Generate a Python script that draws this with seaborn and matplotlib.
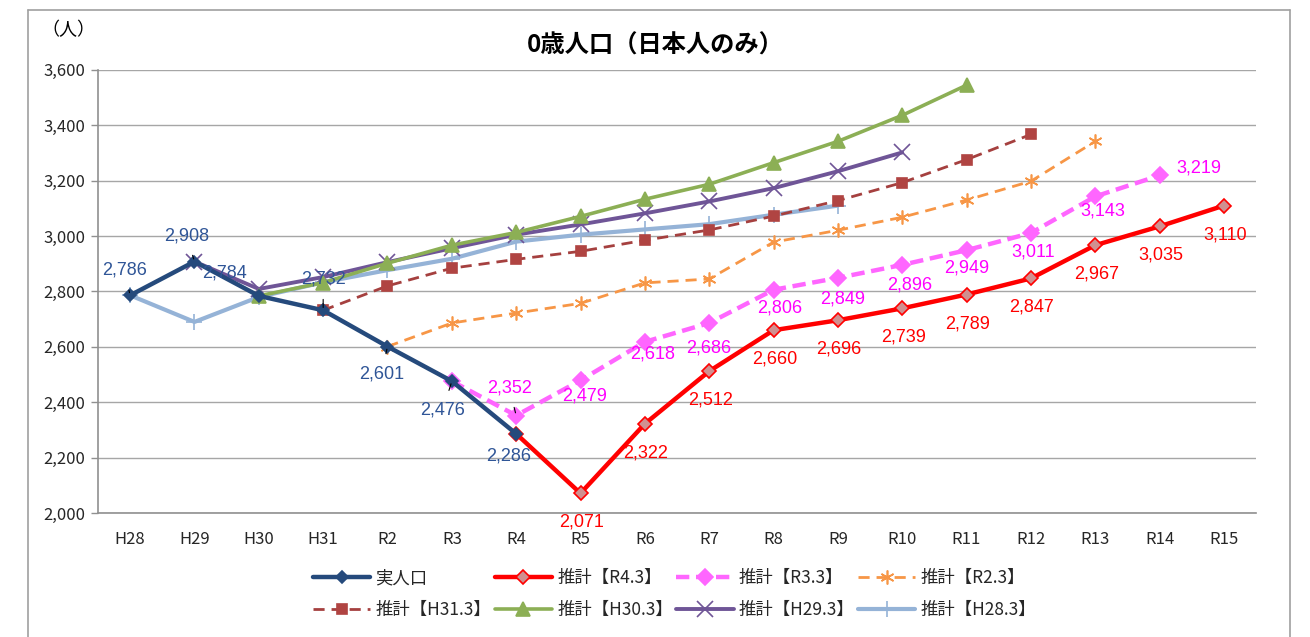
import numpy as np
import pandas as pd
import seaborn as sns
import matplotlib.pyplot as plt
from matplotlib.lines import Line2D

# categories (fiscal years)
years = ['H28', 'H29', 'H30', 'H31', 'R2', 'R3', 'R4', 'R5', 'R6',
         'R7', 'R8', 'R9', 'R10', 'R11', 'R12', 'R13', 'R14', 'R15']

# each series: first year index + values
actual_start = 0
actual = [2786, 2908, 2784, 2732, 2601, 2476, 2286]
r43_start = 6
r43 = [2286, 2071, 2322, 2512, 2660, 2696, 2739, 2789, 2847, 2967, 3035, 3110]
r33_start = 5
r33 = [2476, 2352, 2479, 2618, 2686, 2806, 2849, 2896, 2949, 3011, 3143, 3219]
r23_start = 4
r23 = [2601, 2686, 2722, 2757, 2831, 2845, 2978, 3021, 3068, 3130, 3198, 3342]
h313_start = 3
h313 = [2732, 2820, 2884, 2916, 2945, 2985, 3022, 3072, 3128, 3193, 3276, 3367]
h303_start = 2
h303 = [2784, 2832, 2902, 2967, 3013, 3071, 3133, 3187, 3265, 3342, 3436, 3545]
h293_start = 1
h293 = [2908, 2809, 2852, 2906, 2956, 3005, 3042, 3082, 3125, 3173, 3234, 3302]
h283_start = 0
h283 = [2786, 2690, 2780, 2833, 2877, 2918, 2980, 3005, 3024, 3043, 3077, 3110]

series_names = ['実人口', '推計【R4.3】', '推計【R3.3】', '推計【R2.3】',
                '推計【H31.3】', '推計【H30.3】', '推計【H29.3】', '推計【H28.3】']

sns.set_theme(style='white')
plt.rcParams['font.family'] = ['Noto Sans CJK JP', 'DejaVu Sans']


def make_df(start, vals):
    idx = np.arange(start, start + len(vals))
    return pd.DataFrame({'x': idx, 'y': vals})


styles = [
    dict(color='#254A7C', lw=3.2, marker='D', ms=6, mfc='#254A7C', mec='#254A7C', ls='-'),
    dict(color='#FF0000', lw=3.2, marker='D', ms=7, mfc='#D09090', mec='#FF0000', ls='-'),
    dict(color='#FF66FF', lw=3.2, marker='D', ms=8, mfc='#FF66FF', mec='#FF66FF', ls=(0, (3, 1.5))),
    dict(color='#F79646', lw=2.0, marker=(6, 2, 0), ms=10, mfc='#F79646', mec='#F79646', ls=(0, (4, 2.5))),
    dict(color='#A5403F', lw=2.0, marker='s', ms=7, mfc='#B04442', mec='#B04442', ls=(0, (4, 2.5))),
    dict(color='#8CAF55', lw=2.6, marker='^', ms=10, mfc='#8CAF55', mec='#8CAF55', ls='-'),
    dict(color='#6F5597', lw=2.8, marker='x', ms=11, mfc='#6F5597', mec='#6F5597', ls='-'),
    dict(color='#95B3D7', lw=3.0, marker='+', ms=12, mfc='#95B3D7', mec='#95B3D7', ls='-'),
]

data = [(actual_start, actual), (r43_start, r43), (r33_start, r33), (r23_start, r23),
        (h313_start, h313), (h303_start, h303), (h293_start, h293), (h283_start, h283)]

fig = plt.figure(figsize=(13.1, 6.37), dpi=100)
ax = fig.add_axes([0.0748, 0.1947, 0.8840, 0.6955])

# draw back to front so actual / R4.3 sit on top
draw_order = [7, 6, 5, 4, 3, 2, 1, 0]
for i in draw_order:
    start, vals = data[i]
    st = styles[i]
    df = make_df(start, vals)
    sns.lineplot(data=df, x='x', y='y', ax=ax, color=st['color'], linewidth=st['lw'],
                 linestyle=st['ls'], marker=st['marker'], markersize=st['ms'],
                 markerfacecolor=st['mfc'], markeredgecolor=st['mec'],
                 markeredgewidth=1.2, label=series_names[i], zorder=3 + (8 - i) * 0.1)

ax.set_xlim(-0.5, len(years) - 0.5)
ax.set_ylim(2000, 3600)
ax.set_yticks(np.arange(2000, 3601, 200))
ax.set_yticklabels([f'{v:,}' for v in range(2000, 3601, 200)], fontsize=12)
ax.set_xticks(np.arange(len(years)))
ax.set_xticklabels(years, fontsize=12)
ax.set_xticks(np.arange(-0.5, len(years)), minor=True)
ax.tick_params(axis='x', which='major', length=0, pad=13)
ax.tick_params(axis='x', which='minor', length=5, color='#909090', width=1)
ax.tick_params(axis='y', length=5, color='#909090', width=1, left=True, pad=4)
ax.set_xlabel('')
ax.set_ylabel('')
ax.grid(axis='y', color='#A6A6A6', lw=1)
ax.set_axisbelow(True)
for s in ['top', 'right']:
    ax.spines[s].set_visible(False)
for s in ['left', 'bottom']:
    ax.spines[s].set_color('#909090')
    ax.spines[s].set_linewidth(1.2)
ax.legend().remove()

# data labels (offsets in pixels)
lbl_font = 13


def label(xi, val, color, dx, dy, leader=False):
    kw = {}
    if leader:
        kw['arrowprops'] = dict(arrowstyle='-', color='black', lw=0.8, shrinkA=6, shrinkB=2)
    ax.annotate(f'{val:,}', xy=(xi, val), xytext=(dx, dy), textcoords='offset pixels',
                ha='center', va='center', color=color, fontsize=lbl_font,
                family=['Liberation Sans', 'DejaVu Sans'], zorder=10, **kw)


act_off = [(-6, 25, True), (-8, 26, True), (-34, 23, False), (0, 31, True),
           (-6, -27, True), (-9, -29, True), (-8, -22, False)]
for k, v in enumerate(actual):
    dx, dy, ld = act_off[k]
    label(actual_start + k, v, '#2F5597', dx, dy, ld)

for k, v in enumerate(r43[1:]):
    label(r43_start + 1 + k, v, '#FF0000', 1, -29)

r33_off = [(-7, 28, True), (4, -16, False), (8, -12, False), (0, -25, False),
           (6, -18, False), (5, -21, False), (8, -20, False), (0, -18, False),
           (2, -19, False), (8, -15, False), (39, 7, False)]
for k, v in enumerate(r33[1:]):
    dx, dy, ld = r33_off[k]
    label(r33_start + 1 + k, v, '#FF00FF', dx, dy, ld)

# titles
fig.text(0.5, 0.928, '0歳人口（日本人のみ）', ha='center', va='center',
         fontsize=17.5, fontweight='bold', color='#000000')
fig.text(0.052, 0.952, '（人）', ha='center', va='center', fontsize=13, color='#000000')

# legend: two rows, row-wise order
handles, labels = ax.get_legend_handles_labels()
hmap = dict(zip(labels, handles))
order = [0, 4, 1, 5, 2, 6, 3, 7]
fig.legend([hmap[series_names[i]] for i in order], [series_names[i] for i in order],
           loc='center', bbox_to_anchor=(0.515, 0.067), ncol=4, frameon=False,
           fontsize=12.5, handlelength=3.3, columnspacing=0.2, handletextpad=0.3,
           labelspacing=0.8)

# chart border
border = dict(color='#A0A0A0', lw=1.2, transform=fig.transFigure)
fig.add_artist(Line2D([0.0214, 0.0214], [0.0, 0.985], **border))
fig.add_artist(Line2D([0.0214, 0.985], [0.985, 0.985], **border))
fig.add_artist(Line2D([0.985, 0.985], [0.0, 0.985], **border))

fig.savefig('out.png', dpi=100)
